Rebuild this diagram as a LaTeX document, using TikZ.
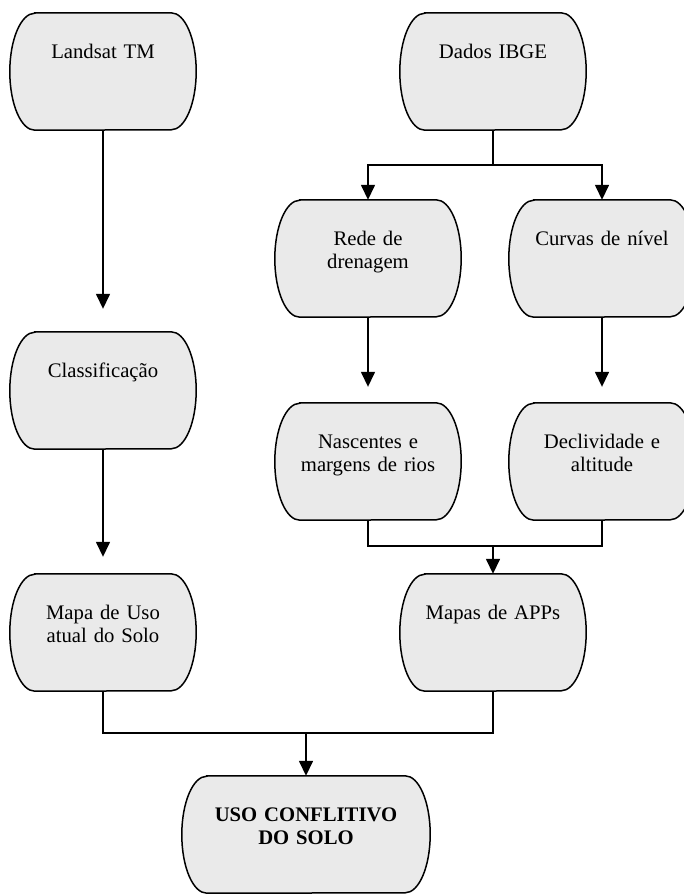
\documentclass[tikz,border=0pt]{standalone}
\usepackage{fontspec}
\setmainfont{Liberation Serif}
\usetikzlibrary{arrows.meta,backgrounds,calc}
\definecolor{boxfill}{HTML}{EAEAEA}
\begin{document}
\begin{tikzpicture}[x=1pt,y=-1pt,
  font=\fontsize{20.7}{23.5}\selectfont,
  termbox/.style={rectangle, inner sep=0pt, text width=186pt, minimum width=186pt,
    align=center, text height=45pt, text depth=72pt},
  widebox/.style={termbox, text width=248pt, minimum width=248pt,
    font=\fontsize{20.7}{23.5}\selectfont\bfseries},
  shapeline/.style={draw=black, line width=1.5pt, fill=boxfill},
  link/.style={line width=1.5pt},
  arrow/.style={link, -{Triangle[width=14pt,length=15pt]}}
]
\useasboundingbox (0,0) rectangle (684,895);

% boxes (center x, center y)
\node[termbox] (landsat) at (103,71.5)  {Landsat TM};
\node[termbox] (dados)   at (493,71.5)  {Dados IBGE};
\node[termbox] (rede)    at (368,258.5) {Rede de\\drenagem};
\node[termbox] (curvas)  at (602,258.5) {Curvas de nível};
\node[termbox] (classif) at (103,390.5) {Classificação};
\node[termbox] (nasc)    at (368,461.5) {Nascentes e\\margens de rios};
\node[termbox] (decl)    at (602,461.5) {Declividade e\\altitude};
\node[termbox] (mapauso) at (103,632.5) {Mapa de Uso\\atual do Solo};
\node[termbox] (apps)    at (493,632.5) {Mapas de APPs};
\node[widebox] (uso)     at (306,834.5) {USO CONFLITIVO\\DO SOLO};

\begin{scope}[on background layer]
\foreach \n in {landsat,dados,rede,curvas,classif,nasc,decl,mapauso,apps,uso}{
  \path[shapeline] ($(\n.north west)+(25,0)$) -- ($(\n.north east)+(-25,0)$)
    arc[start angle=90, end angle=-90, x radius=25pt, y radius=58.5pt]
    -- ($(\n.south west)+(25,0)$)
    arc[start angle=270, end angle=90, x radius=25pt, y radius=58.5pt] -- cycle;
}
\end{scope}

% left column
\draw[arrow, shorten >=23pt] (landsat.south) -- (classif.north);
\draw[arrow, shorten >=17pt] (classif.south) -- (mapauso.north);

% split from Dados IBGE
\coordinate (split) at (493,165);
\draw[link] (dados.south) -- (split);
\draw[arrow] (split) -| (rede.north);
\draw[arrow] (split) -| (curvas.north);

% middle arrows
\draw[arrow, shorten >=16pt] (rede.south) -- (nasc.north);
\draw[arrow, shorten >=16pt] (curvas.south) -- (decl.north);

% merge into Mapas de APPs
\coordinate (merge1) at (493,546);
\draw[link] (nasc.south) |- (merge1) -| (decl.south);
\draw[arrow] (merge1) -- (apps.north);

% merge into USO CONFLITIVO
\coordinate (merge2) at (306,733);
\draw[link] (mapauso.south) |- (merge2) -| (apps.south);
\draw[arrow] (merge2) -- (uso.north);
\end{tikzpicture}
\end{document}
